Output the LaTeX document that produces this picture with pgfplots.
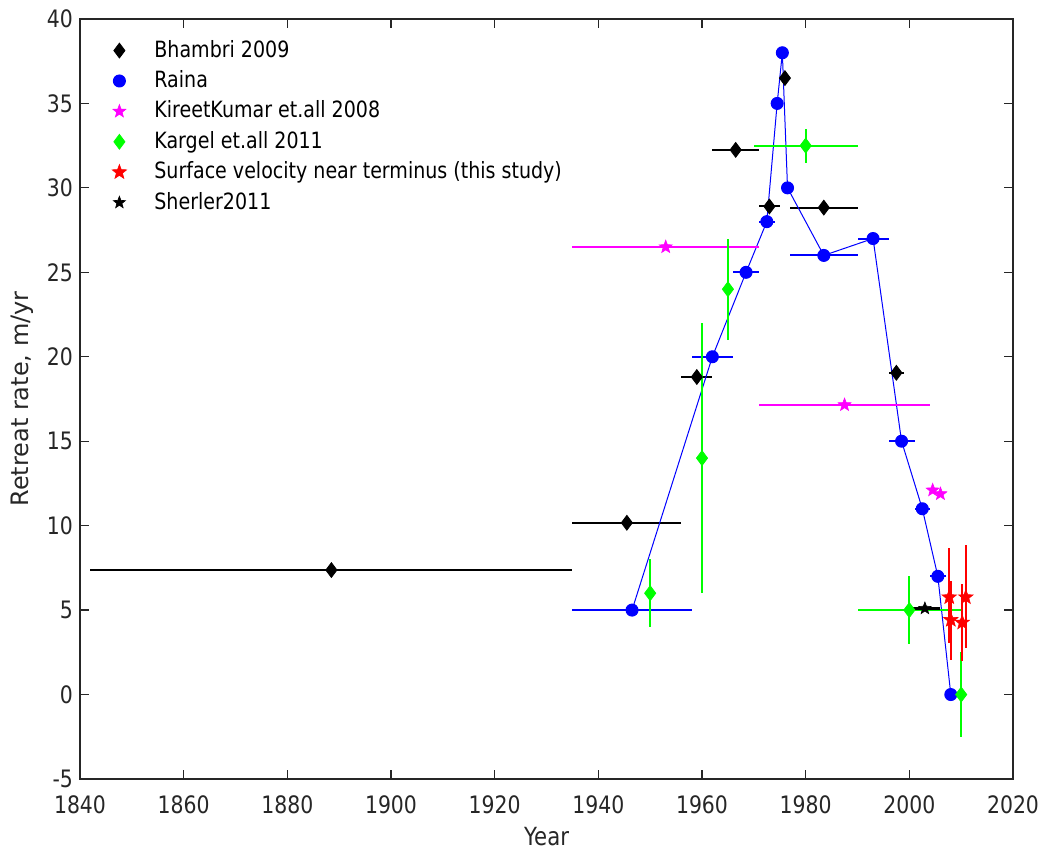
\documentclass[border=0pt]{standalone}
\usepackage{fontspec}
\setmainfont{DejaVu Sans}[FakeStretch=0.85]
\newfontfamily\ylfont{DejaVu Sans}
\usepackage{pgfplots}
\pgfplotsset{compat=1.18}
\definecolor{axgray}{gray}{0.15}
\definecolor{mgreen}{rgb}{0,1,0}
\definecolor{mmag}{rgb}{1,0,1}
\pgfdeclareplotmark{pstar}{%
  \pgfpathmoveto{\pgfpointpolar{90}{\pgfplotmarksize}}%
  \pgfpathlineto{\pgfpointpolar{126}{0.42\pgfplotmarksize}}%
  \pgfpathlineto{\pgfpointpolar{162}{\pgfplotmarksize}}%
  \pgfpathlineto{\pgfpointpolar{198}{0.42\pgfplotmarksize}}%
  \pgfpathlineto{\pgfpointpolar{234}{\pgfplotmarksize}}%
  \pgfpathlineto{\pgfpointpolar{270}{0.42\pgfplotmarksize}}%
  \pgfpathlineto{\pgfpointpolar{306}{\pgfplotmarksize}}%
  \pgfpathlineto{\pgfpointpolar{342}{0.42\pgfplotmarksize}}%
  \pgfpathlineto{\pgfpointpolar{18}{\pgfplotmarksize}}%
  \pgfpathlineto{\pgfpointpolar{54}{0.42\pgfplotmarksize}}%
  \pgfpathclose
  \pgfusepathqfillstroke
}
\begin{document}
\begin{tikzpicture}
\begin{axis}[name=ax, scale only axis, width=466.5pt, height=380pt,
 xmin=1840, xmax=2020, ymin=-5, ymax=40,
 xtick={1840,1860,...,2020}, ytick={-5,0,...,40},
 tick align=inside, major tick length=4.5pt,
 axis line style={axgray, line width=0.6pt}, tick style={axgray, line width=0.6pt},
 ticklabel style={font=\fontsize{12}{14}\selectfont, text=axgray},
 xticklabel style={yshift=-5pt},
 /pgf/number format/assume math mode=true,
 /pgf/number format/1000 sep={},
 xlabel={Year}, ylabel={Retreat rate, m/yr},
 xlabel style={at={(axis description cs:0.5,-0.076)}, anchor=center, font=\fontsize{12.5}{14}\selectfont, text=axgray},
 ylabel style={at={(axis description cs:-0.0622,0.5)}, anchor=center, font=\ylfont\fontsize{12}{14}\selectfont, text=axgray},
 legend style={at={(axis description cs:0,1)}, anchor=north west, draw=none, fill=none,
   xshift=8pt, yshift=-6pt,
   font=\fontsize{11.2}{13}\selectfont, row sep=0pt,
   nodes={text height=9pt, text depth=2.5pt, inner ysep=1.85pt}},
 legend cell align=left,
 legend image code/.code={%
   \path[draw=none] (0,0) -- (24pt,0);
   \draw[#1,/tikz/only marks,mark repeat=2,mark phase=2] plot coordinates {(0pt,0pt) (8.5pt,0pt) (24pt,0pt)};},
 error bars/error mark=none,
]
% Bhambri 2009
\addplot[only marks, mark=diamond*, mark size=3.7pt, mark options={black, fill=black}, black,
  error bars/.cd, x dir=both, x explicit, error bar style={line width=1pt, black}] coordinates {
 (1888.5,7.37) +- (46.5,0)
 (1945.5,10.17) +- (10.5,0)
 (1959,18.8) +- (3,0)
 (1966.5,32.25) +- (4.5,0)
 (1973,28.9) +- (2,0)
 (1976,36.5) +- (0,0)
 (1983.5,28.83) +- (6.5,0)
 (1997.5,19.05) +- (1.5,0)
};
\addlegendentry{Bhambri 2009}
% Raina
\addplot[blue, line width=0.5pt, mark=*, mark size=3pt, mark options={blue, fill=blue, solid},
  error bars/.cd, x dir=both, x explicit, error bar style={line width=1pt, blue}] coordinates {
 (1946.5,5) +- (11.5,0)
 (1962,20) +- (4,0)
 (1968.5,25) +- (2.5,0)
 (1972.5,28) +- (1.5,0)
 (1974.5,35) +- (0,0)
 (1975.5,38) +- (0,0)
 (1976.5,30) +- (0,0)
 (1983.5,26) +- (6.5,0)
 (1993,27) +- (3,0)
 (1998.5,15) +- (2.5,0)
 (2002.5,11) +- (1.5,0)
 (2005.5,7) +- (1.5,0)
 (2008,0) +- (0,0)
};
\addlegendentry{Raina}
% KireetKumar
\addplot[only marks, mmag, mark=pstar, mark size=3.4pt, mark options={mmag, fill=mmag, line width=0.3pt},
  error bars/.cd, x dir=both, x explicit, error bar style={line width=1pt, mmag}] coordinates {
 (1953,26.5) +- (18,0)
 (1987.5,17.15) +- (16.5,0)
 (2004.5,12.1) +- (0,0)
 (2006,11.88) +- (0,0)
};
\addlegendentry{KireetKumar et.all 2008}
% Kargel
\addplot[only marks, mgreen, mark=diamond*, mark size=3.7pt, mark options={mgreen, fill=mgreen},
  error bars/.cd, x dir=both, x explicit, y dir=both, y explicit, error bar style={line width=1pt, mgreen}] coordinates {
 (1950,6) +- (0,2)
 (1960,14) +- (0,8)
 (1965,24) +- (0,3)
 (1980,32.5) +- (10,1)
 (2000,5) +- (10,2)
 (2010,0) +- (0,2.5)
};
\addlegendentry{Kargel et.all 2011}
% This study
\addplot[only marks, red, mark=pstar, mark size=3.8pt, mark options={red, fill=red, line width=0.3pt},
  error bars/.cd, y dir=both, y explicit, error bar style={line width=1pt, red}] coordinates {
 (2007.7,5.76) += (0,2.9) -= (0,2.7)
 (2010.9,5.76) += (0,3.1) -= (0,3.0)
 (2008.0,4.42) += (0,2.3) -= (0,2.4)
 (2010.2,4.26) += (0,2.3) -= (0,2.25)
};
\addlegendentry{Surface velocity near terminus (this study)}
% Sherler
\addplot[only marks, black, mark=pstar, mark size=3.2pt, mark options={black, fill=black, line width=0.3pt},
  error bars/.cd, x dir=both, x explicit, error bar style={line width=1.6pt, black}] coordinates {
 (2003,5.1) +- (3,0)
};
\addlegendentry{Sherler2011}
\end{axis}
\pgfresetboundingbox
\path ([xshift=-40pt,yshift=-36.5pt]ax.south west) rectangle ([xshift=15.5pt,yshift=9.5pt]ax.north east);
\end{tikzpicture}
\end{document}
